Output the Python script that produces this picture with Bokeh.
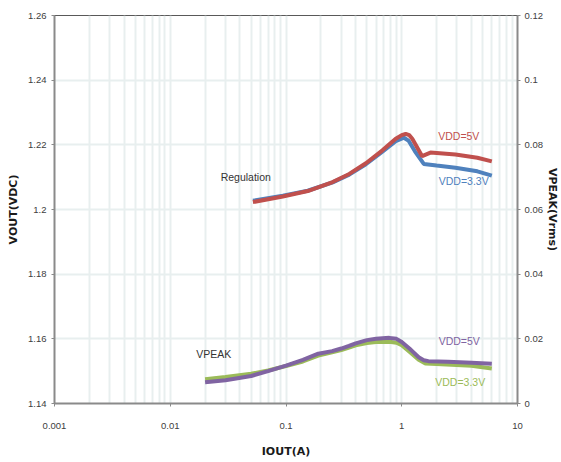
from bokeh.plotting import figure
from bokeh.models import Range1d, LinearAxis, FixedTicker, Label
from bokeh.embed import file_html
from bokeh.resources import INLINE

# ---- data ----
reg5_x = [0.0518, 0.0939, 0.154, 0.253, 0.352, 0.49, 0.681, 0.887, 1.0, 1.081, 1.16, 1.233, 1.5, 1.77, 2.91, 4.5, 6.0]
reg5_y = [1.2023, 1.2040, 1.2057, 1.2085, 1.2110, 1.2143, 1.2183, 1.2219, 1.2230, 1.2234, 1.2230, 1.2219, 1.2165, 1.2176, 1.2170, 1.2160, 1.2149]
reg33_x = [0.0518, 0.0939, 0.154, 0.253, 0.352, 0.49, 0.681, 0.887, 1.045, 1.15, 1.3, 1.55, 2.0, 2.91, 4.5, 6.0]
reg33_y = [1.2027, 1.2043, 1.2058, 1.2084, 1.2108, 1.2140, 1.2179, 1.2211, 1.2222, 1.2212, 1.2180, 1.2141, 1.2136, 1.2129, 1.2118, 1.2105]
vpk5_x = [0.02, 0.03, 0.05, 0.07, 0.1, 0.14, 0.19, 0.25, 0.3, 0.35, 0.4, 0.5, 0.6, 0.78, 0.9, 1.0, 1.2, 1.4, 1.55, 1.7, 2.5, 4.0, 6.0]
vpk5_y = [0.0066, 0.0072, 0.0085, 0.0100, 0.0117, 0.0135, 0.0154, 0.0162, 0.0170, 0.0178, 0.0186, 0.0196, 0.0200, 0.0203, 0.0200, 0.0190, 0.0166, 0.0143, 0.0134, 0.0131, 0.0129, 0.0126, 0.0123]
vpk33_x = [0.02, 0.03, 0.05, 0.07, 0.1, 0.14, 0.19, 0.25, 0.3, 0.35, 0.4, 0.5, 0.6, 0.78, 0.9, 1.0, 1.2, 1.4, 1.6, 2.0, 4.0, 6.0]
vpk33_y = [0.0075, 0.0082, 0.0092, 0.0102, 0.0116, 0.0130, 0.0148, 0.0158, 0.0165, 0.0173, 0.0180, 0.0187, 0.0190, 0.0191, 0.0188, 0.0180, 0.0156, 0.0135, 0.0124, 0.0122, 0.0117, 0.0108]

x_ticks = [0.001, 0.01, 0.1, 1, 10]
x_tick_labels = ["0.001", "0.01", "0.1", "1", "10"]
x_minor = [m * d for d in [0.001, 0.01, 0.1, 1] for m in range(2, 10)]
yl_ticks = [1.14, 1.16, 1.18, 1.2, 1.22, 1.24, 1.26]
yl_tick_labels = ["1.14", "1.16", "1.18", "1.2", "1.22", "1.24", "1.26"]
yr_ticks = [0, 0.02, 0.04, 0.06, 0.08, 0.1, 0.12]
yr_tick_labels = ["0", "0.02", "0.04", "0.06", "0.08", "0.1", "0.12"]

TICK_FONT = "Liberation Sans"
GRID = "#e8efef"
AXIS = "#8a8a8a"

p = figure(width=561, height=462, x_axis_type="log",
           x_range=Range1d(0.001, 10), y_range=Range1d(1.14, 1.26),
           output_backend="svg", toolbar_location=None,
           min_border_left=54, min_border_right=42, min_border_top=15, min_border_bottom=59)
p.extra_y_ranges = {"vpeak": Range1d(0, 0.12)}

p.outline_line_color = "#595959"
p.outline_line_width = 1

p.xaxis.ticker = FixedTicker(ticks=x_ticks, minor_ticks=x_minor)
p.xaxis.major_label_overrides = {v: s for v, s in zip(x_ticks, x_tick_labels)}
p.yaxis.ticker = FixedTicker(ticks=yl_ticks)
p.yaxis.major_label_overrides = {v: s for v, s in zip(yl_ticks, yl_tick_labels)}

p.xgrid.grid_line_color = GRID
p.xgrid.grid_line_width = 2
p.xgrid.minor_grid_line_color = GRID
p.xgrid.minor_grid_line_width = 2
p.ygrid.grid_line_color = GRID
p.ygrid.grid_line_width = 2

ra = LinearAxis(y_range_name="vpeak", ticker=FixedTicker(ticks=yr_ticks))
ra.major_label_overrides = {v: s for v, s in zip(yr_ticks, yr_tick_labels)}
p.add_layout(ra, "right")

for ax in [p.xaxis[0], p.yaxis[0], ra]:
    ax.axis_line_color = AXIS
    ax.axis_line_width = 2
    ax.major_tick_line_color = AXIS
    ax.major_tick_out = 3
    ax.major_tick_in = 0
    ax.minor_tick_line_color = None
    ax.major_label_text_font = TICK_FONT
    ax.major_label_text_font_size = "9.5px"
    ax.major_label_text_color = "#404040"
    ax.axis_label_text_font = "DejaVu Sans"
    ax.axis_label_text_font_style = "bold"
    ax.axis_label_text_font_size = "11px"
    ax.axis_label_text_color = "#1a1a1a"

p.xaxis.axis_label = "IOUT(A)"
p.xaxis.major_label_standoff = 15
p.xaxis.axis_label_standoff = 13
p.yaxis.axis_label = "VOUT(VDC)"
p.yaxis.major_label_standoff = 5
p.yaxis.axis_label_standoff = 5
ra.axis_label = "VPEAK(Vrms)"
ra.major_label_standoff = 4
ra.axis_label_standoff = 0

LW = 4
p.line(reg33_x, reg33_y, line_color="#4f81bd", line_width=LW)
p.line(reg5_x, reg5_y, line_color="#c0504d", line_width=LW)
p.line(vpk33_x, vpk33_y, line_color="#9bbb59", line_width=LW, y_range_name="vpeak")
p.line(vpk5_x, vpk5_y, line_color="#8064a2", line_width=LW, y_range_name="vpeak")

def lab(x, y, t, c, rng="default"):
    p.add_layout(Label(x=x, y=y, text=t, text_color=c, text_font=TICK_FONT,
                       text_font_size="10.5px", text_align="center",
                       text_baseline="middle", y_range_name=rng))

lab(0.0449, 1.2102, "Regulation", "#333333")
lab(0.0238, 0.01516, "VPEAK", "#333333", "vpeak")
lab(3.11, 1.2226, "VDD=5V", "#c0504d")
lab(3.43, 1.2087, "VDD=3.3V", "#4f81bd")
lab(3.14, 0.0192, "VDD=5V", "#8064a2", "vpeak")
lab(3.2, 0.0068, "VDD=3.3V", "#9bbb59", "vpeak")

open("out.html", "w").write(file_html(p, INLINE))
